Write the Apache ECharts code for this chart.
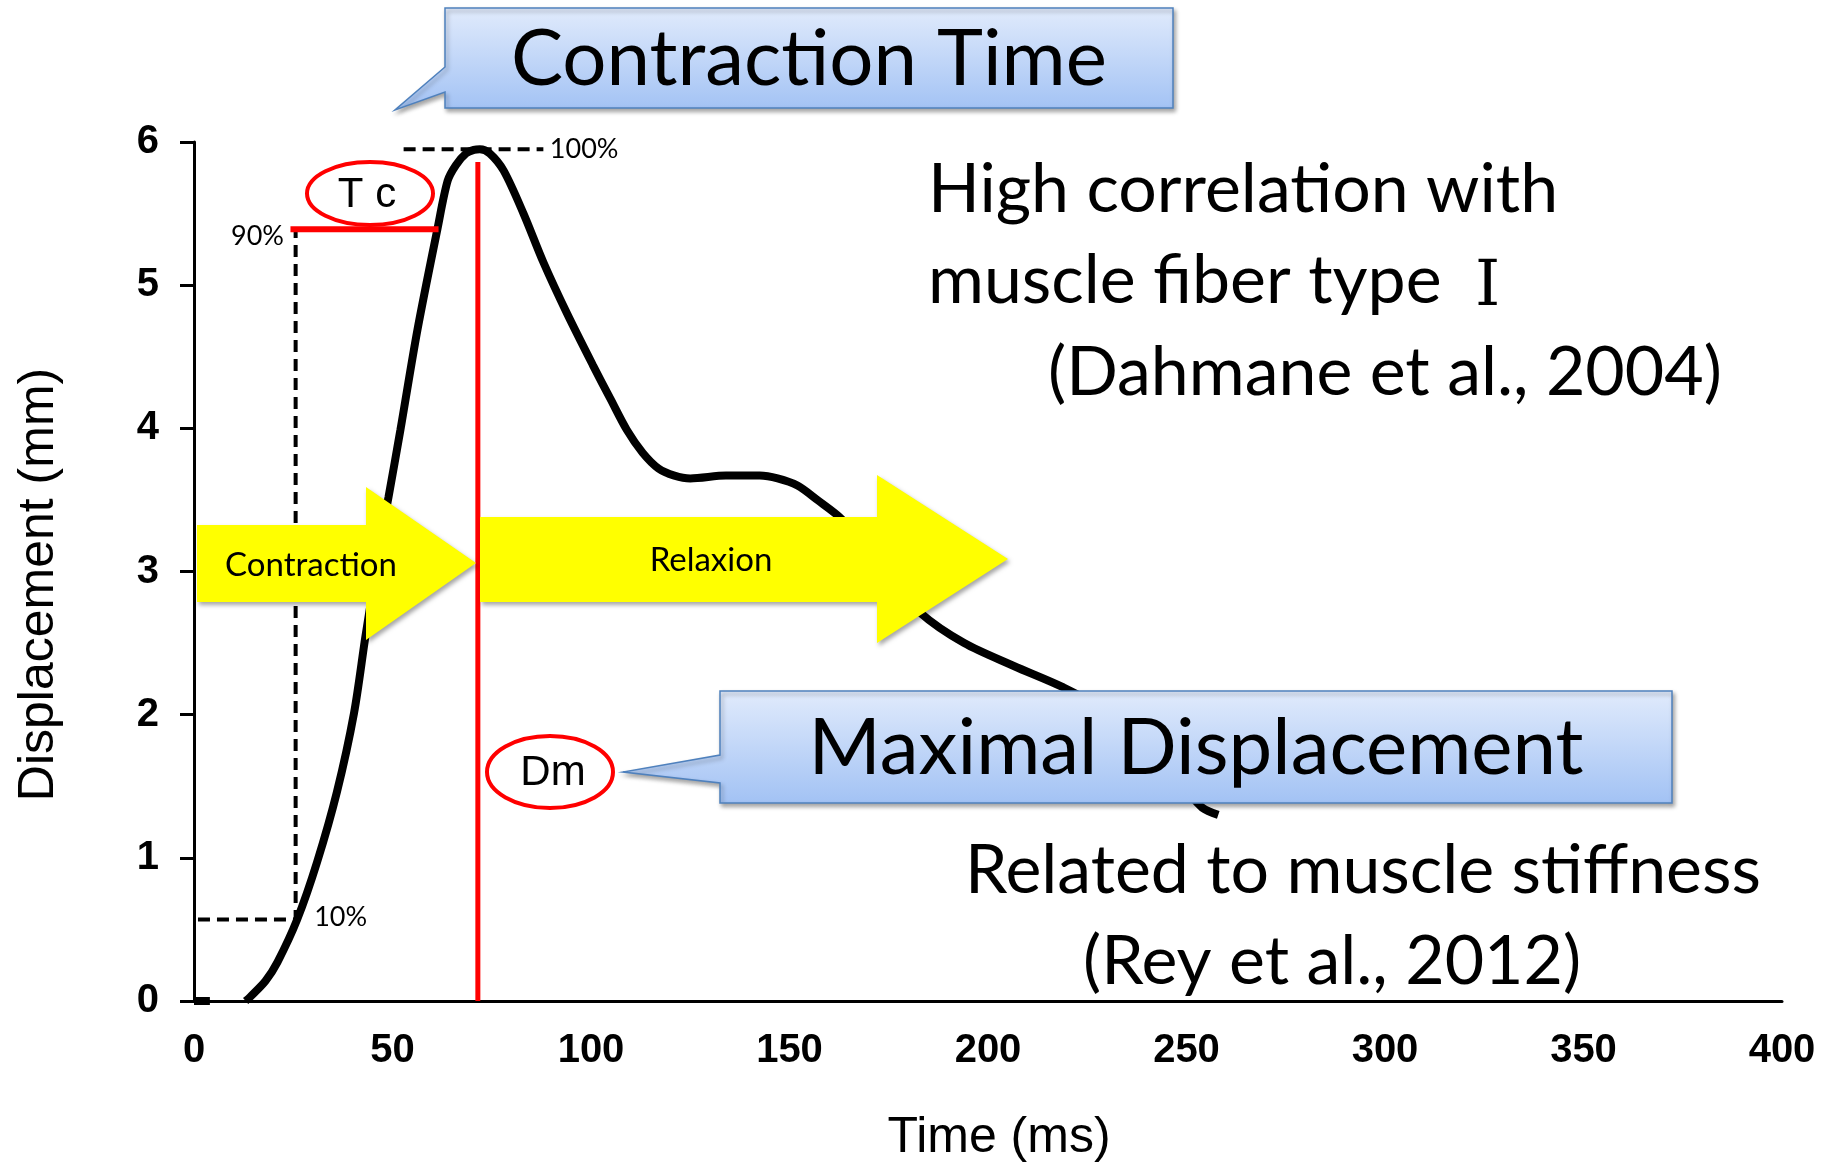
<!DOCTYPE html>
<html lang="en">
<head>
  <meta charset="UTF-8">
  <title>Twitch response curve</title>
  <script src="https://cdn.jsdelivr.net/npm/echarts@6/dist/echarts.min.js"></script>
  <style>
    html, body { margin: 0; padding: 0; background: #fff; }
    #chart { width: 1826px; height: 1163px; }
  </style>
</head>
<body>
  <div id="chart"></div>
  <script>
    // axes
    const xMin = 0, xMax = 400, xStep = 50
    const yMin = 0, yMax = 6, yStep = 1

    // displacement curve (ms, mm)
    const curveTime = [0, 4, 8, 13, 14.2, 18, 21, 26, 31, 36, 40.3, 43.2, 45.5, 47.5, 49, 52, 56.3, 61.3, 63.9, 66, 68.5, 70.5, 72,
      74.5, 78, 83, 88, 94, 100.5, 105, 109, 113, 117, 121, 125, 134, 142.5, 147, 152, 157, 163, 170, 177, 183, 194, 206.5, 219,
      230, 242, 250, 254, 258]
    const curveDisp = [0, 0, '-', 0, 0.03, 0.14, 0.27, 0.57, 0.97, 1.46, 2.01, 2.55, 2.95, 3.3, 3.52, 3.99, 4.69, 5.39, 5.73, 5.84, 5.92, 5.945, 5.95,
      5.92, 5.8, 5.5, 5.16, 4.8, 4.44, 4.2, 3.99, 3.83, 3.72, 3.67, 3.65, 3.67, 3.67, 3.65, 3.6, 3.5, 3.37, 3.15, 2.92, 2.71, 2.5, 2.34, 2.19,
      2.02, 1.72, 1.47, 1.35, 1.3]

    // reference levels
    const peakRef = [[52.8, 5.95], [88, 5.95]]
    const tcRef = [[24.3, 5.39], [61.6, 5.39]]
    const tenRef = [[1, 0.57], [25.6, 0.57], [25.6, 5.39]]
    const dmRef = [[71.5, 5.86], [71.5, 0]]
    const refLabels = ['100%', '90%', '10%']

    const curveData = curveTime.map(function (t, i) { return [t, curveDisp[i]] })

    const chart = echarts.init(document.getElementById('chart'))

    const textFont = 'Lato, "Noto Sans", sans-serif'
    const axisFont = '"Liberation Sans", Arial, sans-serif'
    const calloutFill = new echarts.graphic.LinearGradient(0, 0, 0, 1, [
      { offset: 0, color: '#e1ebfc' },
      { offset: 1, color: '#a2c2f4' }
    ])
    const noDot = { color: 'rgba(0,0,0,0)' }
    const dashStyle = { color: '#000', width: 4, type: [12, 7] }

    function label(text, x, y, size, align, family, rich) {
      return {
        type: 'text', x: x, y: y, z: 20,
        style: {
          text: text, fill: '#000', fontSize: size, fontFamily: family || textFont,
          align: align || 'center', textAlign: align || 'center',
          verticalAlign: 'middle', textVerticalAlign: 'middle',
          rich: rich
        }
      }
    }
    function shape(points, fill, stroke) {
      return {
        type: 'polygon', z: 15,
        shape: { points: points },
        style: {
          fill: fill, stroke: stroke || null, lineWidth: 1.5,
          shadowBlur: 4, shadowOffsetX: 2, shadowOffsetY: 3, shadowColor: 'rgba(0,0,0,0.35)'
        }
      }
    }
    function ring(cx, cy, rx, ry) {
      return {
        type: 'ellipse', z: 20,
        shape: { cx: cx, cy: cy, rx: rx, ry: ry },
        style: { fill: 'none', stroke: '#ff0000', lineWidth: 4 }
      }
    }

    const option = {
      animation: false,
      backgroundColor: '#fff',
      grid: { left: 194, right: 44, top: 142, bottom: 162, outerBoundsMode: 'none', containLabel: false },
      xAxis: {
        type: 'value', min: xMin, max: xMax, interval: xStep,
        name: 'Time (ms)', nameLocation: 'middle', nameGap: 112,
        nameTextStyle: { fontSize: 50, fontFamily: axisFont, color: '#000', padding: [0, 0, 0, 22] },
        axisLine: { show: true, lineStyle: { color: '#000', width: 3 } },
        axisTick: { show: false },
        splitLine: { show: false },
        axisLabel: { fontSize: 40, fontWeight: 'bold', fontFamily: axisFont, color: '#000', margin: 30 }
      },
      yAxis: {
        type: 'value', min: yMin, max: yMax, interval: yStep,
        name: 'Displacement (mm)', nameLocation: 'middle', nameGap: 130,
        nameTextStyle: { fontSize: 50, fontFamily: axisFont, color: '#000', padding: [0, 26, 0, 0] },
        axisLine: { show: true, lineStyle: { color: '#000', width: 3 } },
        axisTick: { show: true, length: 14, lineStyle: { color: '#000', width: 3 } },
        splitLine: { show: false },
        axisLabel: { fontSize: 40, fontWeight: 'bold', fontFamily: axisFont, color: '#000', margin: 35 }
      },
      series: [
        {
          name: 'displacement', type: 'line', z: 2, silent: true,
          data: curveData, symbol: 'none', smooth: 0.3,
          lineStyle: { color: '#000', width: 8 }
        },
        {
          name: 'peak', type: 'line', z: 3, silent: true,
          symbol: 'circle', symbolSize: 1, itemStyle: noDot,
          lineStyle: dashStyle,
          data: [peakRef[0], {
            value: peakRef[1],
            label: { show: true, position: 'right', distance: 6, formatter: refLabels[0], fontSize: 27, fontFamily: textFont, color: '#000' }
          }]
        },
        {
          name: 'ten', type: 'line', z: 3, silent: true,
          symbol: 'circle', symbolSize: 1, itemStyle: noDot,
          lineStyle: dashStyle,
          data: [tenRef[0], {
            value: tenRef[1],
            label: { show: true, position: 'right', distance: 18, offset: [0, -2], formatter: refLabels[2], fontSize: 27, fontFamily: textFont, color: '#000' }
          }, tenRef[2]]
        },
        {
          name: 'tc', type: 'line', z: 10, silent: true,
          symbol: 'circle', symbolSize: 1, itemStyle: noDot,
          lineStyle: { color: '#ff0000', width: 6 },
          data: [{
            value: tcRef[0],
            label: { show: true, position: 'left', distance: 6, offset: [0, 7], formatter: refLabels[1], fontSize: 27, fontFamily: textFont, color: '#000' }
          }, tcRef[1]]
        },
        {
          name: 'dm', type: 'line', z: 10, silent: true,
          symbol: 'none',
          lineStyle: { color: '#ff0000', width: 5 },
          data: dmRef
        }
      ],
      graphic: [
        // callouts
        shape([[445, 8], [1173, 8], [1173, 108], [445, 108], [445, 92], [395, 110], [445, 67]], calloutFill, '#4f81bd'),
        label('Contraction Time', 809, 60, 78),
        shape([[720, 691], [1672, 691], [1672, 803], [720, 803], [720, 783], [623, 772], [720, 755]], calloutFill, '#4f81bd'),
        label('Maximal Displacement', 1196, 749, 78),
        // phase arrows
        shape([[197, 525], [366, 525], [366, 487], [476, 563], [366, 640], [366, 602], [197, 602]], '#ffff00'),
        label('Contraction', 311, 565, 33),
        shape([[480, 517], [877, 517], [877, 475], [1008, 559], [877, 643], [877, 602], [480, 602]], '#ffff00'),
        label('Relaxion', 711, 560, 33),
        // marked parameters
        ring(370, 193.5, 63, 31.5),
        label('T c', 367, 195, 42, 'center', axisFont),
        ring(550, 772, 63, 36),
        label('Dm', 553, 773, 42, 'center', axisFont),
        // notes
        label('High correlation with', 928, 190, 68, 'left'),
        label('muscle fiber type {r|Ⅰ}', 928, 281, 68, 'left', null,
          { r: { fontFamily: '"DejaVu Serif", "Liberation Serif", serif', fontSize: 64, padding: [14, 0, 0, 16] } }),
        label('(Dahmane et al., 2004)', 1048, 373, 68, 'left'),
        label('Related to muscle stiffness', 965, 871, 68, 'left'),
        label('(Rey et al., 2012)', 1083, 962, 68, 'left')
      ]
    }

    chart.setOption(option)
  </script>
</body>
</html>
